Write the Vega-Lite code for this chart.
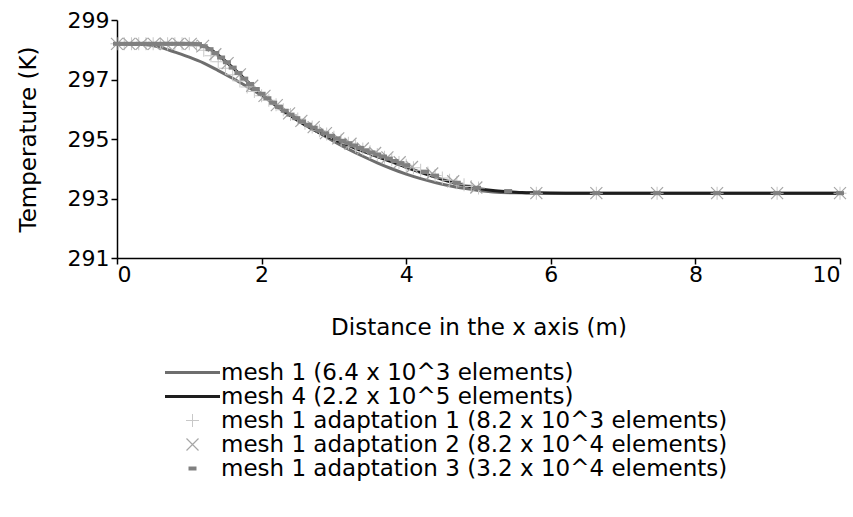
{
  "$schema": "https://vega.github.io/schema/vega-lite/v6.json",
  "autosize": {"type": "none"},
  "width": 723,
  "height": 238,
  "padding": {"left": 117, "top": 20, "right": 13, "bottom": 259},
  "background": "white",
  "config": {
    "view": {"stroke": null},
    "font": "DejaVu Sans",
    "axis": {"grid": false, "domainColor": "black", "tickColor": "black", "labelColor": "black", "titleColor": "black", "labelFont": "DejaVu Sans", "titleFont": "DejaVu Sans", "labelFontSize": 22, "titleFontSize": 23, "titleFontWeight": "normal", "domainWidth": 1.5, "tickWidth": 1.5, "tickSize": 6},
    "legend": {"orient": "none", "legendX": 64, "legendY": 341, "title": null, "labelFontSize": 23, "labelFont": "DejaVu Sans", "labelColor": "black", "symbolSize": 100, "labelOffset": 17, "rowPadding": -1.7, "padding": 0, "symbolStrokeWidth": 0, "symbolOpacity": 1, "labelLimit": 1000}
  },
  "datasets": {
    "curves": [
      {"series": "mesh 1 (6.4 x 10^3 elements)", "x": 0, "T": 298.2},
      {"series": "mesh 1 (6.4 x 10^3 elements)", "x": 0.4, "T": 298.17},
      {"series": "mesh 1 (6.4 x 10^3 elements)", "x": 0.6, "T": 298.08},
      {"series": "mesh 1 (6.4 x 10^3 elements)", "x": 0.8, "T": 297.92},
      {"series": "mesh 1 (6.4 x 10^3 elements)", "x": 1.0, "T": 297.75},
      {"series": "mesh 1 (6.4 x 10^3 elements)", "x": 1.2, "T": 297.55},
      {"series": "mesh 1 (6.4 x 10^3 elements)", "x": 1.4, "T": 297.3},
      {"series": "mesh 1 (6.4 x 10^3 elements)", "x": 1.6, "T": 297.04},
      {"series": "mesh 1 (6.4 x 10^3 elements)", "x": 1.8, "T": 296.76},
      {"series": "mesh 1 (6.4 x 10^3 elements)", "x": 2.0, "T": 296.47},
      {"series": "mesh 1 (6.4 x 10^3 elements)", "x": 2.2, "T": 296.15},
      {"series": "mesh 1 (6.4 x 10^3 elements)", "x": 2.4, "T": 295.82},
      {"series": "mesh 1 (6.4 x 10^3 elements)", "x": 2.6, "T": 295.5},
      {"series": "mesh 1 (6.4 x 10^3 elements)", "x": 2.8, "T": 295.2},
      {"series": "mesh 1 (6.4 x 10^3 elements)", "x": 3.0, "T": 294.92},
      {"series": "mesh 1 (6.4 x 10^3 elements)", "x": 3.2, "T": 294.66},
      {"series": "mesh 1 (6.4 x 10^3 elements)", "x": 3.4, "T": 294.42},
      {"series": "mesh 1 (6.4 x 10^3 elements)", "x": 3.6, "T": 294.2},
      {"series": "mesh 1 (6.4 x 10^3 elements)", "x": 3.8, "T": 294.0},
      {"series": "mesh 1 (6.4 x 10^3 elements)", "x": 4.0, "T": 293.82},
      {"series": "mesh 1 (6.4 x 10^3 elements)", "x": 4.2, "T": 293.67},
      {"series": "mesh 1 (6.4 x 10^3 elements)", "x": 4.4, "T": 293.54},
      {"series": "mesh 1 (6.4 x 10^3 elements)", "x": 4.6, "T": 293.43},
      {"series": "mesh 1 (6.4 x 10^3 elements)", "x": 4.8, "T": 293.34},
      {"series": "mesh 1 (6.4 x 10^3 elements)", "x": 5.0, "T": 293.27},
      {"series": "mesh 1 (6.4 x 10^3 elements)", "x": 5.2, "T": 293.22},
      {"series": "mesh 1 (6.4 x 10^3 elements)", "x": 5.5, "T": 293.19},
      {"series": "mesh 1 (6.4 x 10^3 elements)", "x": 6.0, "T": 293.18},
      {"series": "mesh 1 (6.4 x 10^3 elements)", "x": 10.0, "T": 293.18},
      {"series": "mesh 4 (2.2 x 10^5 elements)", "x": 0, "T": 298.2},
      {"series": "mesh 4 (2.2 x 10^5 elements)", "x": 1.0, "T": 298.2},
      {"series": "mesh 4 (2.2 x 10^5 elements)", "x": 1.1, "T": 298.19},
      {"series": "mesh 4 (2.2 x 10^5 elements)", "x": 1.2, "T": 298.12},
      {"series": "mesh 4 (2.2 x 10^5 elements)", "x": 1.3, "T": 298.0},
      {"series": "mesh 4 (2.2 x 10^5 elements)", "x": 1.4, "T": 297.82},
      {"series": "mesh 4 (2.2 x 10^5 elements)", "x": 1.5, "T": 297.62},
      {"series": "mesh 4 (2.2 x 10^5 elements)", "x": 1.6, "T": 297.4},
      {"series": "mesh 4 (2.2 x 10^5 elements)", "x": 1.7, "T": 297.17},
      {"series": "mesh 4 (2.2 x 10^5 elements)", "x": 1.8, "T": 296.94},
      {"series": "mesh 4 (2.2 x 10^5 elements)", "x": 1.9, "T": 296.72},
      {"series": "mesh 4 (2.2 x 10^5 elements)", "x": 2.0, "T": 296.5},
      {"series": "mesh 4 (2.2 x 10^5 elements)", "x": 2.2, "T": 296.12},
      {"series": "mesh 4 (2.2 x 10^5 elements)", "x": 2.4, "T": 295.78},
      {"series": "mesh 4 (2.2 x 10^5 elements)", "x": 2.6, "T": 295.47},
      {"series": "mesh 4 (2.2 x 10^5 elements)", "x": 2.8, "T": 295.21},
      {"series": "mesh 4 (2.2 x 10^5 elements)", "x": 3.0, "T": 294.99},
      {"series": "mesh 4 (2.2 x 10^5 elements)", "x": 3.2, "T": 294.79},
      {"series": "mesh 4 (2.2 x 10^5 elements)", "x": 3.4, "T": 294.59},
      {"series": "mesh 4 (2.2 x 10^5 elements)", "x": 3.6, "T": 294.41},
      {"series": "mesh 4 (2.2 x 10^5 elements)", "x": 3.8, "T": 294.23},
      {"series": "mesh 4 (2.2 x 10^5 elements)", "x": 4.0, "T": 294.05},
      {"series": "mesh 4 (2.2 x 10^5 elements)", "x": 4.2, "T": 293.88},
      {"series": "mesh 4 (2.2 x 10^5 elements)", "x": 4.4, "T": 293.72},
      {"series": "mesh 4 (2.2 x 10^5 elements)", "x": 4.6, "T": 293.57},
      {"series": "mesh 4 (2.2 x 10^5 elements)", "x": 4.8, "T": 293.44},
      {"series": "mesh 4 (2.2 x 10^5 elements)", "x": 5.0, "T": 293.34},
      {"series": "mesh 4 (2.2 x 10^5 elements)", "x": 5.2, "T": 293.27},
      {"series": "mesh 4 (2.2 x 10^5 elements)", "x": 5.4, "T": 293.23},
      {"series": "mesh 4 (2.2 x 10^5 elements)", "x": 5.6, "T": 293.2},
      {"series": "mesh 4 (2.2 x 10^5 elements)", "x": 5.8, "T": 293.19},
      {"series": "mesh 4 (2.2 x 10^5 elements)", "x": 6.2, "T": 293.18},
      {"series": "mesh 4 (2.2 x 10^5 elements)", "x": 10.0, "T": 293.18}
    ],
    "markers": [
      {"series": "mesh 1 adaptation 1 (8.2 x 10^3 elements)", "x": 0.0, "T": 298.2},
      {"series": "mesh 1 adaptation 1 (8.2 x 10^3 elements)", "x": 0.1, "T": 298.2},
      {"series": "mesh 1 adaptation 1 (8.2 x 10^3 elements)", "x": 0.2, "T": 298.2},
      {"series": "mesh 1 adaptation 1 (8.2 x 10^3 elements)", "x": 0.3, "T": 298.2},
      {"series": "mesh 1 adaptation 1 (8.2 x 10^3 elements)", "x": 0.4, "T": 298.2},
      {"series": "mesh 1 adaptation 1 (8.2 x 10^3 elements)", "x": 0.5, "T": 298.2},
      {"series": "mesh 1 adaptation 1 (8.2 x 10^3 elements)", "x": 0.6, "T": 298.2},
      {"series": "mesh 1 adaptation 1 (8.2 x 10^3 elements)", "x": 0.7, "T": 298.2},
      {"series": "mesh 1 adaptation 1 (8.2 x 10^3 elements)", "x": 0.8, "T": 298.2},
      {"series": "mesh 1 adaptation 1 (8.2 x 10^3 elements)", "x": 0.9, "T": 298.2},
      {"series": "mesh 1 adaptation 1 (8.2 x 10^3 elements)", "x": 1.0, "T": 298.2},
      {"series": "mesh 1 adaptation 1 (8.2 x 10^3 elements)", "x": 1.1, "T": 298.12},
      {"series": "mesh 1 adaptation 1 (8.2 x 10^3 elements)", "x": 1.2, "T": 297.98},
      {"series": "mesh 1 adaptation 1 (8.2 x 10^3 elements)", "x": 1.3, "T": 297.8},
      {"series": "mesh 1 adaptation 1 (8.2 x 10^3 elements)", "x": 1.4, "T": 297.6},
      {"series": "mesh 1 adaptation 1 (8.2 x 10^3 elements)", "x": 1.5, "T": 297.38},
      {"series": "mesh 1 adaptation 1 (8.2 x 10^3 elements)", "x": 1.6, "T": 297.16},
      {"series": "mesh 1 adaptation 1 (8.2 x 10^3 elements)", "x": 1.7, "T": 296.95},
      {"series": "mesh 1 adaptation 1 (8.2 x 10^3 elements)", "x": 1.8, "T": 296.75},
      {"series": "mesh 1 adaptation 1 (8.2 x 10^3 elements)", "x": 1.9, "T": 296.6},
      {"series": "mesh 1 adaptation 1 (8.2 x 10^3 elements)", "x": 2.0, "T": 296.45},
      {"series": "mesh 1 adaptation 1 (8.2 x 10^3 elements)", "x": 2.1, "T": 296.3},
      {"series": "mesh 1 adaptation 1 (8.2 x 10^3 elements)", "x": 2.2, "T": 296.15},
      {"series": "mesh 1 adaptation 1 (8.2 x 10^3 elements)", "x": 2.3, "T": 295.98},
      {"series": "mesh 1 adaptation 1 (8.2 x 10^3 elements)", "x": 2.4, "T": 295.82},
      {"series": "mesh 1 adaptation 1 (8.2 x 10^3 elements)", "x": 2.5, "T": 295.67},
      {"series": "mesh 1 adaptation 1 (8.2 x 10^3 elements)", "x": 2.6, "T": 295.53},
      {"series": "mesh 1 adaptation 1 (8.2 x 10^3 elements)", "x": 2.7, "T": 295.4},
      {"series": "mesh 1 adaptation 1 (8.2 x 10^3 elements)", "x": 2.8, "T": 295.28},
      {"series": "mesh 1 adaptation 1 (8.2 x 10^3 elements)", "x": 2.9, "T": 295.17},
      {"series": "mesh 1 adaptation 1 (8.2 x 10^3 elements)", "x": 3.0, "T": 295.06},
      {"series": "mesh 1 adaptation 1 (8.2 x 10^3 elements)", "x": 3.1, "T": 294.96},
      {"series": "mesh 1 adaptation 1 (8.2 x 10^3 elements)", "x": 3.2, "T": 294.86},
      {"series": "mesh 1 adaptation 1 (8.2 x 10^3 elements)", "x": 3.3, "T": 294.76},
      {"series": "mesh 1 adaptation 1 (8.2 x 10^3 elements)", "x": 3.4, "T": 294.66},
      {"series": "mesh 1 adaptation 1 (8.2 x 10^3 elements)", "x": 3.5, "T": 294.57},
      {"series": "mesh 1 adaptation 1 (8.2 x 10^3 elements)", "x": 3.6, "T": 294.48},
      {"series": "mesh 1 adaptation 1 (8.2 x 10^3 elements)", "x": 3.7, "T": 294.39},
      {"series": "mesh 1 adaptation 1 (8.2 x 10^3 elements)", "x": 3.8, "T": 294.3},
      {"series": "mesh 1 adaptation 1 (8.2 x 10^3 elements)", "x": 3.9, "T": 294.21},
      {"series": "mesh 1 adaptation 1 (8.2 x 10^3 elements)", "x": 4.0, "T": 294.12},
      {"series": "mesh 1 adaptation 1 (8.2 x 10^3 elements)", "x": 4.1, "T": 294.03},
      {"series": "mesh 1 adaptation 1 (8.2 x 10^3 elements)", "x": 4.2, "T": 293.95},
      {"series": "mesh 1 adaptation 1 (8.2 x 10^3 elements)", "x": 4.3, "T": 293.86},
      {"series": "mesh 1 adaptation 1 (8.2 x 10^3 elements)", "x": 4.4, "T": 293.77},
      {"series": "mesh 1 adaptation 1 (8.2 x 10^3 elements)", "x": 4.5, "T": 293.69},
      {"series": "mesh 1 adaptation 1 (8.2 x 10^3 elements)", "x": 4.6, "T": 293.61},
      {"series": "mesh 1 adaptation 1 (8.2 x 10^3 elements)", "x": 4.7, "T": 293.53},
      {"series": "mesh 1 adaptation 1 (8.2 x 10^3 elements)", "x": 4.8, "T": 293.46},
      {"series": "mesh 1 adaptation 1 (8.2 x 10^3 elements)", "x": 4.9, "T": 293.4},
      {"series": "mesh 1 adaptation 1 (8.2 x 10^3 elements)", "x": 5.0, "T": 293.35},
      {"series": "mesh 1 adaptation 1 (8.2 x 10^3 elements)", "x": 5.8, "T": 293.18},
      {"series": "mesh 1 adaptation 1 (8.2 x 10^3 elements)", "x": 6.63, "T": 293.18},
      {"series": "mesh 1 adaptation 1 (8.2 x 10^3 elements)", "x": 7.47, "T": 293.18},
      {"series": "mesh 1 adaptation 1 (8.2 x 10^3 elements)", "x": 8.3, "T": 293.18},
      {"series": "mesh 1 adaptation 1 (8.2 x 10^3 elements)", "x": 9.13, "T": 293.18},
      {"series": "mesh 1 adaptation 1 (8.2 x 10^3 elements)", "x": 10.0, "T": 293.18},
      {"series": "mesh 1 adaptation 2 (8.2 x 10^4 elements)", "x": 0.0, "T": 298.2},
      {"series": "mesh 1 adaptation 2 (8.2 x 10^4 elements)", "x": 0.17, "T": 298.2},
      {"series": "mesh 1 adaptation 2 (8.2 x 10^4 elements)", "x": 0.34, "T": 298.2},
      {"series": "mesh 1 adaptation 2 (8.2 x 10^4 elements)", "x": 0.51, "T": 298.2},
      {"series": "mesh 1 adaptation 2 (8.2 x 10^4 elements)", "x": 0.68, "T": 298.2},
      {"series": "mesh 1 adaptation 2 (8.2 x 10^4 elements)", "x": 0.85, "T": 298.2},
      {"series": "mesh 1 adaptation 2 (8.2 x 10^4 elements)", "x": 1.02, "T": 298.2},
      {"series": "mesh 1 adaptation 2 (8.2 x 10^4 elements)", "x": 1.19, "T": 298.13},
      {"series": "mesh 1 adaptation 2 (8.2 x 10^4 elements)", "x": 1.36, "T": 297.85},
      {"series": "mesh 1 adaptation 2 (8.2 x 10^4 elements)", "x": 1.53, "T": 297.55},
      {"series": "mesh 1 adaptation 2 (8.2 x 10^4 elements)", "x": 1.7, "T": 297.17},
      {"series": "mesh 1 adaptation 2 (8.2 x 10^4 elements)", "x": 1.87, "T": 296.79},
      {"series": "mesh 1 adaptation 2 (8.2 x 10^4 elements)", "x": 2.04, "T": 296.45},
      {"series": "mesh 1 adaptation 2 (8.2 x 10^4 elements)", "x": 2.21, "T": 296.14},
      {"series": "mesh 1 adaptation 2 (8.2 x 10^4 elements)", "x": 2.38, "T": 295.86},
      {"series": "mesh 1 adaptation 2 (8.2 x 10^4 elements)", "x": 2.55, "T": 295.61},
      {"series": "mesh 1 adaptation 2 (8.2 x 10^4 elements)", "x": 2.72, "T": 295.4},
      {"series": "mesh 1 adaptation 2 (8.2 x 10^4 elements)", "x": 2.89, "T": 295.2},
      {"series": "mesh 1 adaptation 2 (8.2 x 10^4 elements)", "x": 3.06, "T": 295.02},
      {"series": "mesh 1 adaptation 2 (8.2 x 10^4 elements)", "x": 3.23, "T": 294.84},
      {"series": "mesh 1 adaptation 2 (8.2 x 10^4 elements)", "x": 3.4, "T": 294.68},
      {"series": "mesh 1 adaptation 2 (8.2 x 10^4 elements)", "x": 3.57, "T": 294.53},
      {"series": "mesh 1 adaptation 2 (8.2 x 10^4 elements)", "x": 3.74, "T": 294.38},
      {"series": "mesh 1 adaptation 2 (8.2 x 10^4 elements)", "x": 3.91, "T": 294.22},
      {"series": "mesh 1 adaptation 2 (8.2 x 10^4 elements)", "x": 4.08, "T": 294.06},
      {"series": "mesh 1 adaptation 2 (8.2 x 10^4 elements)", "x": 4.36, "T": 293.84},
      {"series": "mesh 1 adaptation 2 (8.2 x 10^4 elements)", "x": 4.65, "T": 293.58},
      {"series": "mesh 1 adaptation 2 (8.2 x 10^4 elements)", "x": 4.97, "T": 293.37},
      {"series": "mesh 1 adaptation 2 (8.2 x 10^4 elements)", "x": 5.8, "T": 293.18},
      {"series": "mesh 1 adaptation 2 (8.2 x 10^4 elements)", "x": 6.63, "T": 293.18},
      {"series": "mesh 1 adaptation 2 (8.2 x 10^4 elements)", "x": 7.47, "T": 293.18},
      {"series": "mesh 1 adaptation 2 (8.2 x 10^4 elements)", "x": 8.3, "T": 293.18},
      {"series": "mesh 1 adaptation 2 (8.2 x 10^4 elements)", "x": 9.13, "T": 293.18},
      {"series": "mesh 1 adaptation 2 (8.2 x 10^4 elements)", "x": 10.0, "T": 293.18},
      {"series": "mesh 1 adaptation 3 (3.2 x 10^4 elements)", "x": 0.0, "T": 298.2},
      {"series": "mesh 1 adaptation 3 (3.2 x 10^4 elements)", "x": 0.08, "T": 298.2},
      {"series": "mesh 1 adaptation 3 (3.2 x 10^4 elements)", "x": 0.16, "T": 298.2},
      {"series": "mesh 1 adaptation 3 (3.2 x 10^4 elements)", "x": 0.24, "T": 298.2},
      {"series": "mesh 1 adaptation 3 (3.2 x 10^4 elements)", "x": 0.32, "T": 298.2},
      {"series": "mesh 1 adaptation 3 (3.2 x 10^4 elements)", "x": 0.4, "T": 298.2},
      {"series": "mesh 1 adaptation 3 (3.2 x 10^4 elements)", "x": 0.48, "T": 298.2},
      {"series": "mesh 1 adaptation 3 (3.2 x 10^4 elements)", "x": 0.56, "T": 298.2},
      {"series": "mesh 1 adaptation 3 (3.2 x 10^4 elements)", "x": 0.64, "T": 298.2},
      {"series": "mesh 1 adaptation 3 (3.2 x 10^4 elements)", "x": 0.72, "T": 298.2},
      {"series": "mesh 1 adaptation 3 (3.2 x 10^4 elements)", "x": 0.8, "T": 298.2},
      {"series": "mesh 1 adaptation 3 (3.2 x 10^4 elements)", "x": 0.88, "T": 298.2},
      {"series": "mesh 1 adaptation 3 (3.2 x 10^4 elements)", "x": 0.96, "T": 298.2},
      {"series": "mesh 1 adaptation 3 (3.2 x 10^4 elements)", "x": 1.04, "T": 298.2},
      {"series": "mesh 1 adaptation 3 (3.2 x 10^4 elements)", "x": 1.12, "T": 298.19},
      {"series": "mesh 1 adaptation 3 (3.2 x 10^4 elements)", "x": 1.2, "T": 298.12},
      {"series": "mesh 1 adaptation 3 (3.2 x 10^4 elements)", "x": 1.28, "T": 298.02},
      {"series": "mesh 1 adaptation 3 (3.2 x 10^4 elements)", "x": 1.36, "T": 297.89},
      {"series": "mesh 1 adaptation 3 (3.2 x 10^4 elements)", "x": 1.44, "T": 297.74},
      {"series": "mesh 1 adaptation 3 (3.2 x 10^4 elements)", "x": 1.52, "T": 297.58},
      {"series": "mesh 1 adaptation 3 (3.2 x 10^4 elements)", "x": 1.6, "T": 297.4},
      {"series": "mesh 1 adaptation 3 (3.2 x 10^4 elements)", "x": 1.68, "T": 297.22},
      {"series": "mesh 1 adaptation 3 (3.2 x 10^4 elements)", "x": 1.76, "T": 297.03},
      {"series": "mesh 1 adaptation 3 (3.2 x 10^4 elements)", "x": 1.84, "T": 296.85},
      {"series": "mesh 1 adaptation 3 (3.2 x 10^4 elements)", "x": 1.92, "T": 296.68},
      {"series": "mesh 1 adaptation 3 (3.2 x 10^4 elements)", "x": 2.0, "T": 296.52},
      {"series": "mesh 1 adaptation 3 (3.2 x 10^4 elements)", "x": 2.08, "T": 296.37},
      {"series": "mesh 1 adaptation 3 (3.2 x 10^4 elements)", "x": 2.16, "T": 296.22},
      {"series": "mesh 1 adaptation 3 (3.2 x 10^4 elements)", "x": 2.24, "T": 296.08},
      {"series": "mesh 1 adaptation 3 (3.2 x 10^4 elements)", "x": 2.32, "T": 295.95},
      {"series": "mesh 1 adaptation 3 (3.2 x 10^4 elements)", "x": 2.4, "T": 295.82},
      {"series": "mesh 1 adaptation 3 (3.2 x 10^4 elements)", "x": 2.48, "T": 295.7},
      {"series": "mesh 1 adaptation 3 (3.2 x 10^4 elements)", "x": 2.56, "T": 295.59},
      {"series": "mesh 1 adaptation 3 (3.2 x 10^4 elements)", "x": 2.64, "T": 295.48},
      {"series": "mesh 1 adaptation 3 (3.2 x 10^4 elements)", "x": 2.72, "T": 295.38},
      {"series": "mesh 1 adaptation 3 (3.2 x 10^4 elements)", "x": 2.8, "T": 295.28},
      {"series": "mesh 1 adaptation 3 (3.2 x 10^4 elements)", "x": 2.88, "T": 295.19},
      {"series": "mesh 1 adaptation 3 (3.2 x 10^4 elements)", "x": 2.96, "T": 295.1},
      {"series": "mesh 1 adaptation 3 (3.2 x 10^4 elements)", "x": 3.04, "T": 295.02},
      {"series": "mesh 1 adaptation 3 (3.2 x 10^4 elements)", "x": 3.12, "T": 294.94},
      {"series": "mesh 1 adaptation 3 (3.2 x 10^4 elements)", "x": 3.2, "T": 294.86},
      {"series": "mesh 1 adaptation 3 (3.2 x 10^4 elements)", "x": 3.28, "T": 294.78},
      {"series": "mesh 1 adaptation 3 (3.2 x 10^4 elements)", "x": 3.36, "T": 294.7},
      {"series": "mesh 1 adaptation 3 (3.2 x 10^4 elements)", "x": 3.44, "T": 294.62},
      {"series": "mesh 1 adaptation 3 (3.2 x 10^4 elements)", "x": 3.52, "T": 294.55},
      {"series": "mesh 1 adaptation 3 (3.2 x 10^4 elements)", "x": 3.6, "T": 294.48},
      {"series": "mesh 1 adaptation 3 (3.2 x 10^4 elements)", "x": 3.68, "T": 294.41},
      {"series": "mesh 1 adaptation 3 (3.2 x 10^4 elements)", "x": 3.76, "T": 294.34},
      {"series": "mesh 1 adaptation 3 (3.2 x 10^4 elements)", "x": 3.84, "T": 294.26},
      {"series": "mesh 1 adaptation 3 (3.2 x 10^4 elements)", "x": 3.92, "T": 294.19},
      {"series": "mesh 1 adaptation 3 (3.2 x 10^4 elements)", "x": 4.0, "T": 294.12},
      {"series": "mesh 1 adaptation 3 (3.2 x 10^4 elements)", "x": 4.26, "T": 293.9},
      {"series": "mesh 1 adaptation 3 (3.2 x 10^4 elements)", "x": 4.4, "T": 293.77},
      {"series": "mesh 1 adaptation 3 (3.2 x 10^4 elements)", "x": 4.7, "T": 293.53},
      {"series": "mesh 1 adaptation 3 (3.2 x 10^4 elements)", "x": 4.98, "T": 293.36},
      {"series": "mesh 1 adaptation 3 (3.2 x 10^4 elements)", "x": 5.41, "T": 293.25},
      {"series": "mesh 1 adaptation 3 (3.2 x 10^4 elements)", "x": 5.81, "T": 293.2},
      {"series": "mesh 1 adaptation 3 (3.2 x 10^4 elements)", "x": 6.63, "T": 293.18},
      {"series": "mesh 1 adaptation 3 (3.2 x 10^4 elements)", "x": 7.47, "T": 293.18},
      {"series": "mesh 1 adaptation 3 (3.2 x 10^4 elements)", "x": 8.3, "T": 293.18},
      {"series": "mesh 1 adaptation 3 (3.2 x 10^4 elements)", "x": 9.13, "T": 293.18},
      {"series": "mesh 1 adaptation 3 (3.2 x 10^4 elements)", "x": 10.0, "T": 293.18}
    ]
  },
  "encoding": {
    "x": {"field": "x", "type": "quantitative", "scale": {"domain": [0, 10], "nice": false},
          "axis": {"title": "Distance in the x axis (m)", "values": [0, 2, 4, 6, 8, 10], "labelPadding": 0, "titlePadding": 31}},
    "y": {"field": "T", "type": "quantitative", "scale": {"domain": [291, 299], "nice": false, "zero": false},
          "axis": {"title": "Temperature (K)", "values": [291, 293, 295, 297, 299], "format": "d", "labelPadding": 2, "titlePadding": 27}},
    "color": {"field": "series", "type": "nominal",
      "scale": {
        "domain": ["mesh 1 (6.4 x 10^3 elements)", "mesh 4 (2.2 x 10^5 elements)", "mesh 1 adaptation 1 (8.2 x 10^3 elements)", "mesh 1 adaptation 2 (8.2 x 10^4 elements)", "mesh 1 adaptation 3 (3.2 x 10^4 elements)"],
        "range": ["#6e6e6e", "#1e1e1e", "#c8c8c8", "#a6a6a6", "#808080"]
      }}
  },
  "layer": [
    {
      "data": {"name": "curves"},
      "mark": {"type": "line", "strokeWidth": 3, "interpolate": "monotone"}
    },
    {
      "data": {"name": "markers"},
      "mark": {"type": "point", "filled": true, "size": 100, "opacity": 1, "strokeWidth": 0},
      "encoding": {
        "shape": {"field": "series", "type": "nominal",
          "scale": {
            "domain": ["mesh 1 (6.4 x 10^3 elements)", "mesh 4 (2.2 x 10^5 elements)", "mesh 1 adaptation 1 (8.2 x 10^3 elements)", "mesh 1 adaptation 2 (8.2 x 10^4 elements)", "mesh 1 adaptation 3 (3.2 x 10^4 elements)"],
            "range": [
              "M-5.5,-0.3L5.5,-0.3L5.5,0.3L-5.5,0.3Z",
              "M-5.5,-0.3L5.5,-0.3L5.5,0.3L-5.5,0.3Z",
              "M-1.3,-0.1L1.3,-0.1L1.3,0.1L-1.3,0.1ZM-0.1,-1.3L0.1,-1.3L0.1,1.3L-0.1,1.3Z",
              "M-1.115,-1.285L1.285,1.115L1.115,1.285L-1.285,-1.115ZM1.285,-1.115L-1.115,1.285L-1.285,1.115L1.115,-1.285Z",
              "M-0.8,-0.4L0.8,-0.4L0.8,0.4L-0.8,0.4Z"
            ]
          }}
      }
    }
  ]
}
